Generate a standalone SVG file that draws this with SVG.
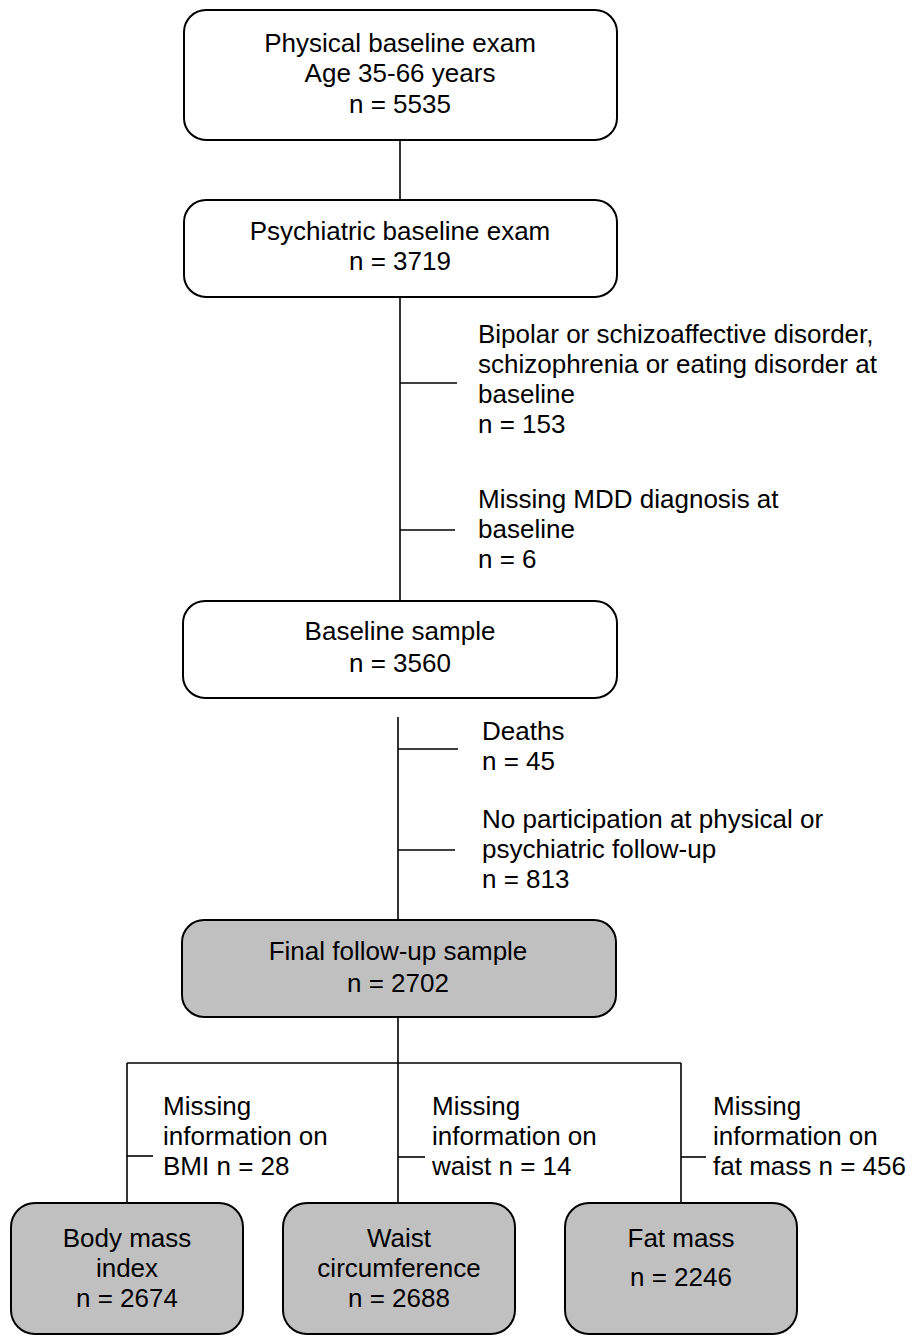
<svg xmlns="http://www.w3.org/2000/svg" width="916" height="1336" viewBox="0 0 916 1336">
<style>
text{font-family:"Liberation Sans",Arial,sans-serif;font-size:26px;fill:#000}
.c{text-anchor:middle}
.box{fill:#fff;stroke:#000;stroke-width:2}
.grey{fill:#c0c0c0}
.ln{stroke:#000;stroke-width:1.6;fill:none}
</style>
<rect width="916" height="1336" fill="#fff"/>
<g id="connectors">
<line class="ln" x1="400" y1="140" x2="400" y2="200"/>
<line class="ln" x1="400" y1="297" x2="400" y2="601"/>
<line class="ln" x1="400" y1="383" x2="457" y2="383"/>
<line class="ln" x1="400" y1="530" x2="455" y2="530"/>
<line class="ln" x1="398" y1="717" x2="398" y2="920"/>
<line class="ln" x1="398" y1="749" x2="458" y2="749"/>
<line class="ln" x1="398" y1="850" x2="455" y2="850"/>
<line class="ln" x1="398" y1="1017" x2="398" y2="1063"/>
<line class="ln" x1="127" y1="1063" x2="681" y2="1063"/>
<line class="ln" x1="127" y1="1063" x2="127" y2="1203"/>
<line class="ln" x1="398" y1="1063" x2="398" y2="1203"/>
<line class="ln" x1="681" y1="1063" x2="681" y2="1203"/>
<line class="ln" x1="127" y1="1156" x2="153" y2="1156"/>
<line class="ln" x1="398" y1="1157" x2="425" y2="1157"/>
<line class="ln" x1="681" y1="1157" x2="706" y2="1157"/>
</g>
<g id="physical">
<rect class="box" x="184" y="10" width="433" height="130" rx="22"/>
<text class="c" x="400" y="52">Physical baseline exam</text>
<text class="c" x="400" y="82">Age 35-66 years</text>
<text class="c" x="400" y="113">n = 5535</text>
</g>
<g id="psychiatric">
<rect class="box" x="184" y="200" width="433" height="97" rx="22"/>
<text class="c" x="400" y="240">Psychiatric baseline exam</text>
<text class="c" x="400" y="270">n = 3719</text>
</g>
<g id="excl1">
<text x="478" y="343">Bipolar or schizoaffective disorder,</text>
<text x="478" y="373">schizophrenia or eating disorder at</text>
<text x="478" y="403">baseline</text>
<text x="478" y="433">n = 153</text>
</g>
<g id="excl2">
<text x="478" y="508">Missing MDD diagnosis at</text>
<text x="478" y="538">baseline</text>
<text x="478" y="568">n = 6</text>
</g>
<g id="baseline">
<rect class="box" x="183" y="601" width="434" height="97" rx="22"/>
<text class="c" x="400" y="640">Baseline sample</text>
<text class="c" x="400" y="672">n = 3560</text>
</g>
<g id="deaths">
<text x="482" y="740">Deaths</text>
<text x="482" y="770">n = 45</text>
</g>
<g id="noparticipation">
<text x="482" y="828">No participation at physical or</text>
<text x="482" y="858">psychiatric follow-up</text>
<text x="482" y="888">n = 813</text>
</g>
<g id="final">
<rect class="box grey" x="182" y="920" width="434" height="97" rx="22"/>
<text class="c" x="398" y="960">Final follow-up sample</text>
<text class="c" x="398" y="992">n = 2702</text>
</g>
<g id="missbmi">
<text x="163" y="1115">Missing</text>
<text x="163" y="1145">information on</text>
<text x="163" y="1175">BMI n = 28</text>
</g>
<g id="misswaist">
<text x="432" y="1115">Missing</text>
<text x="432" y="1145">information on</text>
<text x="432" y="1175">waist n = 14</text>
</g>
<g id="missfat">
<text x="713" y="1115">Missing</text>
<text x="713" y="1145">information on</text>
<text x="713" y="1175">fat mass n = 456</text>
</g>
<g id="bmi">
<rect class="box grey" x="11" y="1203" width="232" height="131" rx="24"/>
<text class="c" x="127" y="1247">Body mass</text>
<text class="c" x="127" y="1277">index</text>
<text class="c" x="127" y="1307">n = 2674</text>
</g>
<g id="waist">
<rect class="box grey" x="283" y="1203" width="232" height="131" rx="24"/>
<text class="c" x="399" y="1247">Waist</text>
<text class="c" x="399" y="1277">circumference</text>
<text class="c" x="399" y="1307">n = 2688</text>
</g>
<g id="fat">
<rect class="box grey" x="565" y="1203" width="232" height="131" rx="24"/>
<text class="c" x="681" y="1247">Fat mass</text>
<text class="c" x="681" y="1286">n = 2246</text>
</g>
</svg>
